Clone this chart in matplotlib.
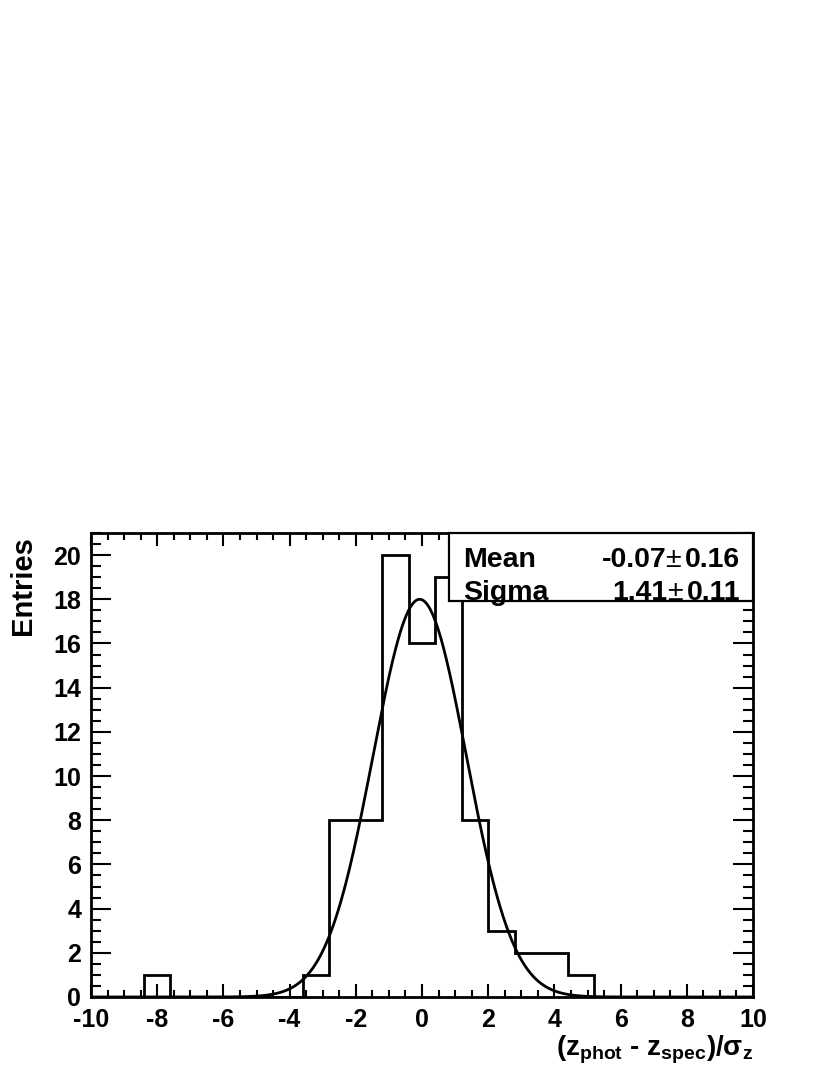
import numpy as np
import matplotlib
matplotlib.use('Agg')
from matplotlib import pyplot as plt
from matplotlib.patches import Rectangle
from matplotlib.ticker import MultipleLocator

plt.rcParams['font.family'] = ['Liberation Sans', 'DejaVu Sans']
plt.rcParams['font.weight'] = 'bold'
plt.rcParams['axes.unicode_minus'] = False
plt.rcParams['mathtext.fontset'] = 'custom'
plt.rcParams['mathtext.rm'] = 'Liberation Sans:bold'
plt.rcParams['mathtext.bf'] = 'Liberation Sans:bold'
plt.rcParams['mathtext.it'] = 'Liberation Sans:bold'
plt.rcParams['mathtext.sf'] = 'Liberation Sans'

# histogram: 25 bins from -10 to 10
xlo, xhi, nbins = -10, 10, 25
counts = [0, 0, 1, 0, 0, 0, 0, 0, 1, 8, 8, 20, 16, 19, 8, 3, 2, 2, 1, 0, 0, 0, 0, 0, 0]

# gaussian fit
fit_const = 18.0
fit_mean = -0.07
fit_mean_err = 0.16
fit_sigma = 1.41
fit_sigma_err = 0.11

xticks = [-10, -8, -6, -4, -2, 0, 2, 4, 6, 8, 10]
yticks = [0, 2, 4, 6, 8, 10, 12, 14, 16, 18, 20]
ymax = 21

edges = np.linspace(xlo, xhi, nbins + 1)

fig = plt.figure(figsize=(8.3, 10.75), dpi=100)
ax = fig.add_axes([91 / 830, 1 - 997 / 1075, 662 / 830, 464 / 1075])

ax.stairs(counts, edges, color='black', linewidth=2.0, baseline=0, zorder=3)
xf = np.linspace(xlo, xhi, 1000)
gf = fit_const * np.exp(-0.5 * ((xf - fit_mean) / fit_sigma) ** 2)
ax.plot(xf, gf, color='black', linewidth=2.0, zorder=4)

ax.set_xlim(xlo, xhi)
ax.set_ylim(0, ymax)
ax.set_xticks(xticks)
ax.set_yticks(yticks)
ax.xaxis.set_minor_locator(MultipleLocator(0.5))
ax.yaxis.set_minor_locator(MultipleLocator(0.5))
ax.tick_params(axis='both', which='both', direction='in', top=True, right=True,
               width=1.5, labelsize=18, color='black')
ax.tick_params(axis='x', which='major', length=9.5, pad=8)
ax.tick_params(axis='x', which='minor', length=4.8)
ax.tick_params(axis='y', which='major', length=14.4, pad=7)
ax.tick_params(axis='y', which='minor', length=7.2)
for lbl in ax.get_xticklabels() + ax.get_yticklabels():
  lbl.set_fontweight('bold')
for sp in ax.spines.values():
  sp.set_linewidth(2.0)

# stats box
bx0 = (449 - 91) / 662
by0 = (997 - 601) / 464
ax.add_patch(Rectangle((bx0, by0), 1 - bx0, 1 - by0, transform=ax.transAxes,
                       facecolor='white', edgecolor='black', linewidth=1.6,
                       zorder=6, clip_on=False))

tx_left = (463 - 91) / 662
tx_right = (740 - 91) / 662
rows = [('Mean', fit_mean, fit_mean_err, (997 - 567) / 464),
        ('Sigma', fit_sigma, fit_sigma_err, (997 - 600) / 464)]

fig.canvas.draw()
rend = fig.canvas.get_renderer()
inv = ax.transAxes.inverted()
for name, val, err, yb in rows:
  ax.text(tx_left, yb, name, transform=ax.transAxes, fontsize=20.5, fontweight='bold',
          ha='left', va='baseline', zorder=7)
  t1 = ax.text(tx_right, yb, '%.2f' % err, transform=ax.transAxes, fontsize=20.5,
               fontweight='bold', ha='right', va='baseline', zorder=7)
  bb = t1.get_window_extent(rend)
  xr = inv.transform((bb.x0 - 4, 0))[0]
  t2 = ax.text(xr, yb, '\u00b1', transform=ax.transAxes, fontsize=20.5,
               fontweight='normal', ha='right', va='baseline', zorder=7)
  bb = t2.get_window_extent(rend)
  xr = inv.transform((bb.x0 + 1, 0))[0]
  ax.text(xr, yb, '%.2f' % val, transform=ax.transAxes, fontsize=20.5,
          fontweight='bold', ha='right', va='baseline', zorder=7)

fig.text(23 / 830, 1 - 536 / 1075, 'Entries', rotation=90, fontsize=21,
         fontweight='bold', ha='center', va='top')
fig.text(753 / 830, 1 - 1055 / 1075,
         r'$\mathbf{(z_{phot}}$ - $\mathbf{z_{spec})/}\mathsf{\sigma}_{\mathbf{z}}$',
         fontsize=20, fontweight='bold', ha='right', va='baseline')

fig.savefig('out.png', dpi=100, facecolor='white')
